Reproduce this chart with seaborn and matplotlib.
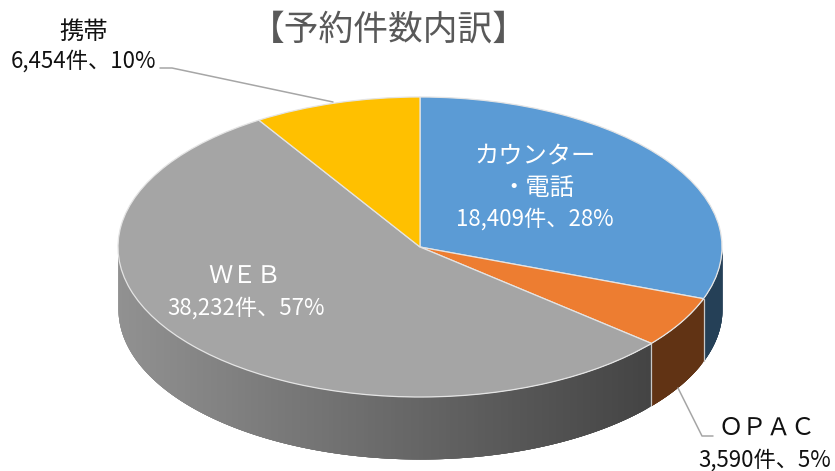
import numpy as np
import matplotlib
matplotlib.use('Agg')
import matplotlib.pyplot as plt
import seaborn as sns

# Reservation counts by channel, clockwise from 12 o'clock
channels = ['カウンター\n・電話', 'ＯＰＡＣ', 'ＷＥＢ', '携帯']
counts = [18409, 3590, 38232, 6454]
percents = [28, 5, 57, 10]
colors = ['#5B9BD5', '#ED7D31', '#A5A5A5', '#FFC000']

sns.set_theme(style='white')
plt.rcParams['font.family'] = ['Noto Sans CJK JP', 'DejaVu Sans']

# Pie geometry on the canvas, in pixels
W, H = 835, 471
CX, CY, RX, RY, DEPTH = 420, 247, 302, 150, 62


def to_x(px):
    return (px - CX) / RX


def to_y(py):
    return (CY - py) / RY


def warp(deg):
    # tilted pie: front slices look wider than back ones
    rad = np.radians(deg)
    return deg + 6.9 * (1 - np.cos(rad)) + np.sin(rad) - 2 * np.sin(3 * rad)


edges = np.concatenate([[0], np.cumsum(counts)]) / sum(counts) * 360
shown = warp(edges)

fig = plt.figure(figsize=(W / 100, H / 100), dpi=100)
ax = fig.add_axes([0, 0, 1, 1])

wedges, _ = ax.pie(np.diff(shown), startangle=90, counterclock=False, colors=colors,
                   wedgeprops={'edgecolor': '#e4e4e4', 'linewidth': 0.9, 'zorder': 5})
ax.set_aspect('auto')
ax.set_xlim(to_x(0), to_x(W))
ax.set_ylim(to_y(H), to_y(0))

# Side wall of the disc, darker towards the right
depth = DEPTH / RY
for i, color in enumerate(colors):
    start, stop = max(shown[i], 90), min(shown[i + 1], 270)
    if start >= stop:
        continue
    base = np.array(matplotlib.colors.to_rgb(color))
    # each strip overlaps the next one so no seams show
    for a in np.arange(start, stop, 0.75):
        t = np.radians(np.linspace(a, min(a + 3, stop), 12))
        xs, ys = np.sin(t), np.cos(t)
        shade = np.interp(np.sin(np.radians(a)), [-1, 0.77], [0.88, 0.41])
        ax.fill_between(xs, ys, ys - depth, color=base * shade, linewidth=0, zorder=2)
    if stop < 270:
        t = np.radians(stop)
        ax.plot([np.sin(t)] * 2, [np.cos(t), np.cos(t) - depth], color='#c8c8c8', lw=0.9, zorder=3)

# Leader lines
ax.plot([to_x(160), to_x(172), to_x(333)], [to_y(68), to_y(68), to_y(102)],
        color='#a6a6a6', lw=1.1, zorder=6)
ax.plot([to_x(678), to_x(702), to_x(713)], [to_y(388), to_y(436), to_y(436)],
        color='#a6a6a6', lw=1.1, zorder=6)


def label(px, py, text, color, size=16):
    ax.text(to_x(px), to_y(py + 1), text, color=color, fontsize=size, ha='center', va='center', zorder=7)


def value_text(i):
    return f'{counts[i]:,}件、{percents[i]}%'


first, second = channels[0].split('\n')
label(535, 155, first, 'white', 17.5)
label(538, 187, second, 'white', 17.5)
label(535, 218, value_text(0), 'white')
label(767, 427, channels[1], '#111111', 17.5)
label(765, 459, value_text(1), '#111111')
label(245, 275, channels[2], 'white', 17.5)
label(246, 307, value_text(2), 'white')
label(84, 31, channels[3], '#111111', 17.5)
label(83, 60, value_text(3), '#111111')

label(389, 29, '【予約件数内訳】', '#595959', 25)

sns.despine(ax=ax, left=True, bottom=True)
fig.savefig('out.png', dpi=100, facecolor='white')
